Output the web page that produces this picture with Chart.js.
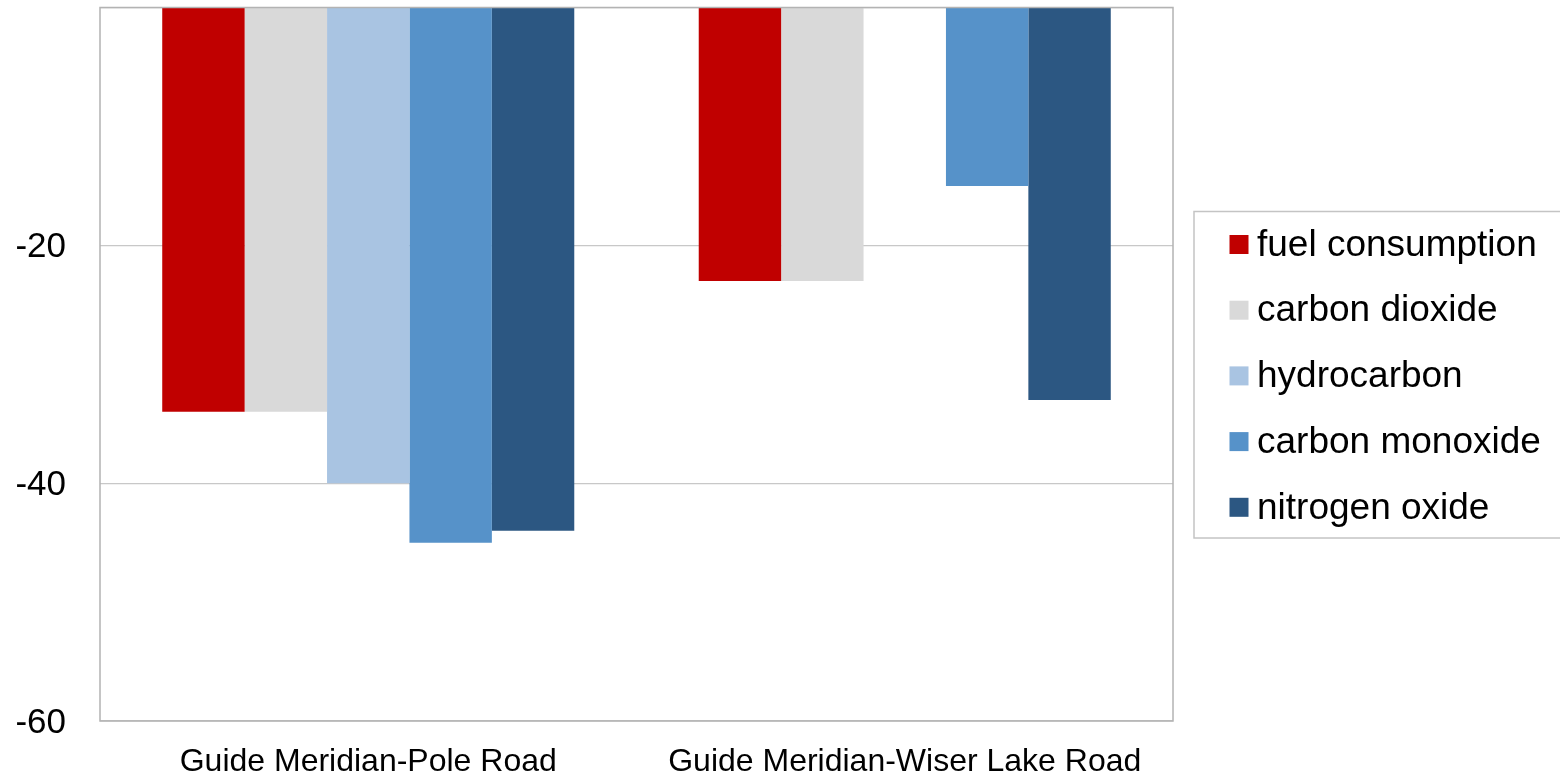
<!DOCTYPE html>
<html>
<head>
<meta charset="utf-8">
<script src="https://cdn.jsdelivr.net/npm/chart.js@4/dist/chart.umd.min.js"></script>
<style>
  html, body { margin: 0; padding: 0; background: #ffffff; }
  #wrap { position: relative; width: 1560px; height: 774px; }
</style>
</head>
<body>
<div id="wrap"><canvas id="c" width="1560" height="774"></canvas></div>
<script>
// Road corridors compared
const categories = ['Guide Meridian-Pole Road', 'Guide Meridian-Wiser Lake Road'];

// Percentage change per measure
const fuelConsumption = [-34, -23];
const carbonDioxide   = [-34, -23];
const hydrocarbon     = [-40, null];
const carbonMonoxide  = [-45, -15];
const nitrogenOxide   = [-44, -33];

const seriesNames = ['fuel consumption', 'carbon dioxide', 'hydrocarbon', 'carbon monoxide', 'nitrogen oxide'];
const seriesColors = ['#C00000', '#D9D9D9', '#A9C4E2', '#5692C9', '#2C5782'];
const seriesValues = [fuelConsumption, carbonDioxide, hydrocarbon, carbonMonoxide, nitrogenOxide];

const yTicks = [-60, -40, -20];

const FONT = '"Liberation Sans", Arial, Helvetica, sans-serif';

// Outline around the plotting area
const framePlugin = {
  id: 'frame',
  afterDraw(chart) {
    const { ctx, chartArea: a } = chart;
    ctx.save();
    ctx.strokeStyle = '#B3B3B3';
    ctx.lineWidth = 1.5;
    ctx.strokeRect(a.left, a.top, a.right - a.left, a.bottom - a.top);
    ctx.restore();
  }
};

// Boxed legend to the right of the plot
const boxLegendPlugin = {
  id: 'boxLegend',
  afterDraw(chart, args, opts) {
    const { ctx } = chart;
    ctx.save();
    ctx.strokeStyle = '#C4C4C4';
    ctx.lineWidth = 1.5;
    ctx.strokeRect(opts.x, opts.y, opts.w, opts.h);
    ctx.font = opts.fontSize + 'px ' + FONT;
    ctx.textBaseline = 'middle';
    chart.data.datasets.forEach((ds, i) => {
      const cy = opts.firstRow + i * opts.rowGap;
      ctx.fillStyle = ds.backgroundColor;
      ctx.fillRect(opts.swatchX, cy - opts.swatch / 2, opts.swatch, opts.swatch);
      ctx.fillStyle = '#000000';
      ctx.fillText(ds.label, opts.textX, cy + 1);
    });
    ctx.restore();
  }
};

new Chart(document.getElementById('c'), {
  type: 'bar',
  data: {
    labels: categories,
    datasets: seriesNames.map((name, i) => ({
      label: name,
      data: seriesValues[i],
      backgroundColor: seriesColors[i],
      borderWidth: 0,
      categoryPercentage: 0.768,
      barPercentage: 1.0
    }))
  },
  options: {
    responsive: false,
    animation: false,
    devicePixelRatio: 1,
    layout: { padding: { left: 0, right: 387, top: 7.5, bottom: 0 } },
    plugins: {
      legend: { display: false },
      tooltip: { enabled: false },
      boxLegend: {
        x: 1194, y: 211.5, w: 380, h: 326.5,
        swatchX: 1229.5, swatch: 19, textX: 1257,
        firstRow: 244.5, rowGap: 65.7, fontSize: 37
      }
    },
    scales: {
      x: {
        grid: { display: false, drawTicks: false },
        border: { display: false },
        ticks: {
          color: '#000000',
          font: { family: FONT, size: 32 },
          padding: 22,
          maxRotation: 0
        },
        afterFit(scale) {
          scale.height = 53;
          scale.paddingLeft = 0;
          scale.paddingRight = 0;
        }
      },
      y: {
        min: -60,
        max: 0,
        afterBuildTicks(scale) {
          scale.ticks = yTicks.map(v => ({ value: v })).concat([{ value: 0 }]);
        },
        grid: { color: '#C8C8C8', lineWidth: 1.2, drawTicks: false },
        border: { display: false },
        ticks: {
          color: '#000000',
          font: { family: FONT, size: 35 },
          padding: 34,
          labelOffset: 2,
          callback: (v) => (v === 0 ? '' : String(v))
        },
        afterFit(scale) {
          scale.width = 100;
          scale.paddingTop = 0;
          scale.paddingBottom = 0;
        }
      }
    }
  },
  plugins: [framePlugin, boxLegendPlugin]
});
</script>
</body>
</html>
